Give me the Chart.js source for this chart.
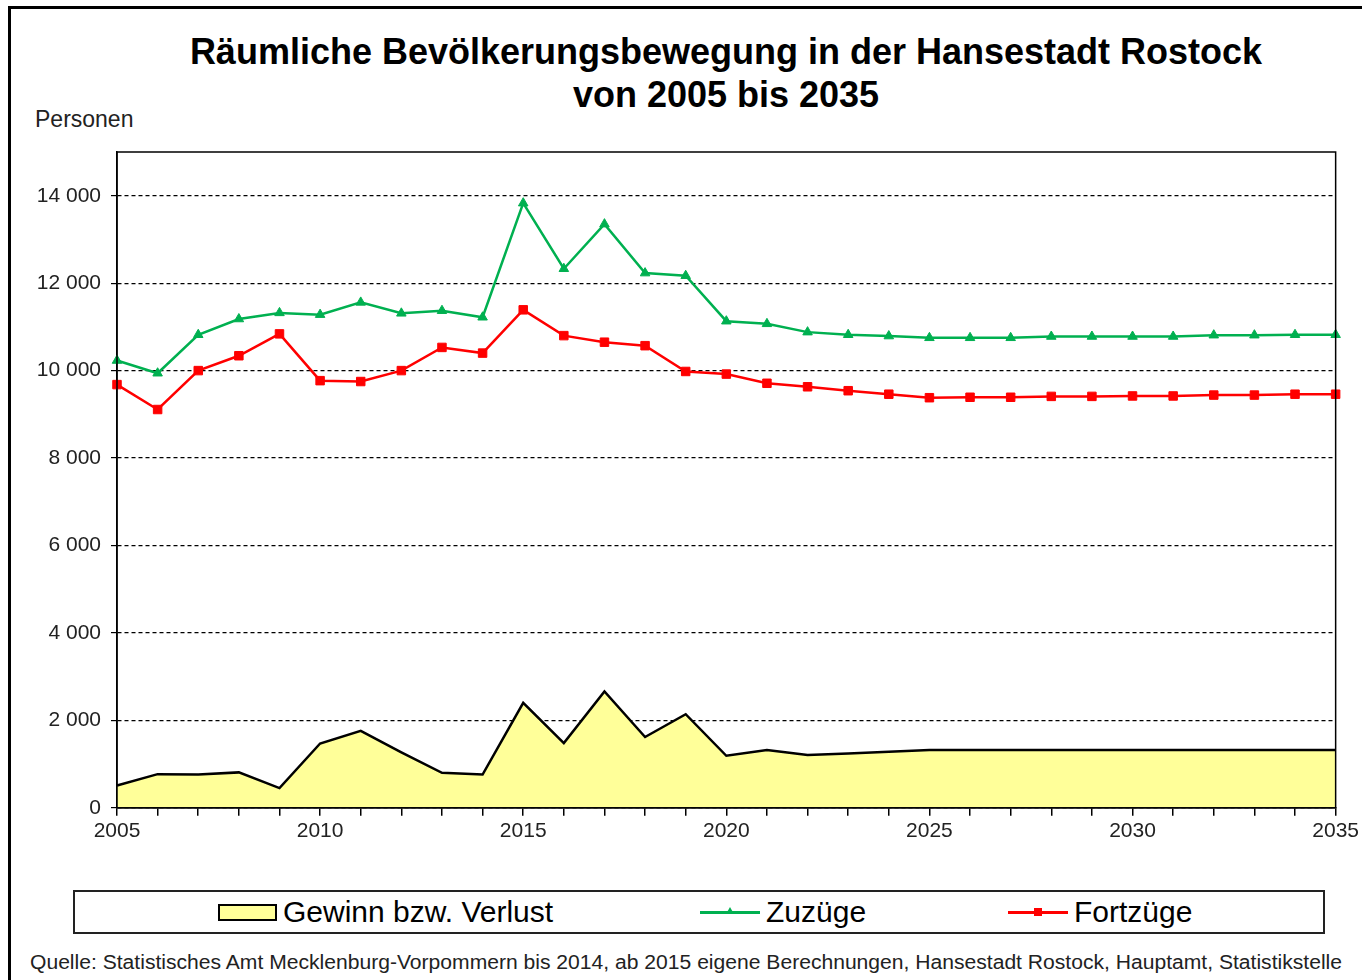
<!DOCTYPE html>
<html lang="de">
    <head>
        <meta charset="UTF-8">
        <title>Räumliche Bevölkerungsbewegung in der Hansestadt Rostock</title>
        <script src="https://cdn.jsdelivr.net/npm/chart.js"></script>
        <style>
            body { margin: 0; background: #fff; font-family: "Liberation Sans", Arial, sans-serif; color: #000; }
            .page { position: relative; width: 1362px; height: 980px; overflow: hidden; }
            .frame { position: absolute; left: 8px; top: 6px; width: 1400px; height: 1000px; border: 3px solid #000; box-sizing: border-box; }
            .title { position: absolute; left: 117px; width: 1218px; top: 30px; text-align: center; font-weight: bold; font-size: 36px; line-height: 43px; }
            .unit { position: absolute; left: 35px; top: 106px; font-size: 23px; line-height: 26px; color: #222; }
            .chart-box { position: absolute; left: 0; top: 0; width: 1362px; height: 880px; }
            .legend { position: absolute; left: 73px; top: 890px; width: 1252px; height: 44px; border: 2px solid #222; box-sizing: border-box; }
            .legend-item { position: absolute; top: 0; height: 40px; display: flex; align-items: center; font-size: 30px; }
            .swatch-area { width: 55px; height: 13px; background: #ffff99; border: 2px solid #000; margin-right: 6px; }
            .swatch-line { position: relative; width: 60px; height: 3px; margin-right: 6px; }
            .swatch-line .mark { position: absolute; left: 26px; top: -3px; width: 8px; height: 8px; }
            .source { position: absolute; left: 30px; top: 950px; font-size: 20px; line-height: 24px; color: #222; white-space: nowrap; transform-origin: 0 0; }
        </style>
    </head>
    <body>
        <div class="page">
            <div class="frame"></div>
            <div class="title">Räumliche Bevölkerungsbewegung in der Hansestadt Rostock<br>von 2005 bis 2035</div>
            <div class="unit">Personen</div>
            <div class="chart-box">
                <canvas id="chart" width="1362" height="880"></canvas>
            </div>
            <div class="legend">
                <div class="legend-item" style="left: 143px;">
                    <span class="swatch-area"></span>Gewinn bzw. Verlust
                </div>
                <div class="legend-item" style="left: 625px;">
                    <span class="swatch-line" style="background: #00b050;"><span class="mark" style="width: 0; height: 0; left: 26px; top: -4px; border-left: 4px solid transparent; border-right: 4px solid transparent; border-bottom: 7px solid #00b050;"></span></span>Zuzüge
                </div>
                <div class="legend-item" style="left: 933px;">
                    <span class="swatch-line" style="background: #ff0000;"><span class="mark" style="background: #ff0000;"></span></span>Fortzüge
                </div>
            </div>
            <div class="source" id="source">Quelle: Statistisches Amt Mecklenburg-Vorpommern bis 2014, ab 2015 eigene Berechnungen, Hansestadt Rostock, Hauptamt, Statistikstelle</div>
        </div>

        <script>
            const years = [];
            for (let y = 2005; y <= 2035; y++) years.push(String(y));

            const zuzuege = [10230, 9940, 10820, 11180, 11320, 11280, 11560, 11310, 11370, 11220,
                             13830, 12330, 13350, 12230, 12170, 11130, 11070, 10880, 10820, 10790,
                             10750, 10750, 10750, 10780, 10780, 10780, 10780, 10810, 10810, 10820, 10820];
            const fortzuege = [9680, 9110, 10000, 10340, 10840, 9770, 9750, 10000, 10530, 10400,
                               11390, 10800, 10650, 10570, 9980, 9920, 9710, 9630, 9540, 9460,
                               9380, 9390, 9390, 9410, 9410, 9420, 9420, 9440, 9440, 9460, 9460];
            const gewinn = [510, 770, 760, 810, 450, 1470, 1760, 1270, 800, 760,
                            2400, 1480, 2660, 1620, 2140, 1190, 1320, 1210, 1240, 1280,
                            1320, 1320, 1320, 1320, 1320, 1320, 1320, 1320, 1320, 1320, 1320];
            const yTicks = [0, 2000, 4000, 6000, 8000, 10000, 12000, 14000];

            // gleiche Breite wie im Original
            const src = document.getElementById('source');
            src.style.transform = 'scaleX(' + (1312 / src.offsetWidth) + ')';

            function formatNumber(v) {
                return String(v).replace(/\B(?=(\d{3})+(?!\d))/g, ' ');
            }

            const plotBorder = {
                id: 'plotBorder',
                afterDraw(chart) {
                    const a = chart.chartArea;
                    const ctx = chart.ctx;
                    ctx.save();
                    ctx.strokeStyle = '#000';
                    ctx.lineWidth = 1.5;
                    ctx.strokeRect(a.left, a.top, a.right - a.left, a.bottom - a.top);
                    ctx.restore();
                }
            };

            const tickFont = { family: '"Liberation Sans", Arial, sans-serif', size: 21 };

            new Chart(document.getElementById('chart'), {
                type: 'line',
                data: {
                    labels: years,
                    datasets: [{
                        label: 'Zuzüge',
                        data: zuzuege,
                        borderColor: '#00b050',
                        backgroundColor: '#00b050',
                        borderWidth: 2.5,
                        pointStyle: 'triangle',
                        pointRadius: 5.5,
                        pointBorderWidth: 1,
                        tension: 0
                    }, {
                        label: 'Fortzüge',
                        data: fortzuege,
                        borderColor: '#ff0000',
                        backgroundColor: '#ff0000',
                        borderWidth: 2.5,
                        pointStyle: 'rect',
                        pointRadius: 6,
                        pointBorderWidth: 1,
                        tension: 0
                    }, {
                        label: 'Gewinn bzw. Verlust',
                        data: gewinn,
                        borderColor: '#000',
                        backgroundColor: '#ffff99',
                        borderWidth: 2.5,
                        pointRadius: 0,
                        fill: 'origin',
                        tension: 0
                    }]
                },
                options: {
                    responsive: false,
                    animation: false,
                    layout: { padding: { top: 152, right: 7, bottom: 33, left: 0 } },
                    plugins: {
                        legend: { display: false },
                        tooltip: { enabled: false }
                    },
                    scales: {
                        x: {
                            offset: false,
                            grid: { display: true, drawOnChartArea: false, drawTicks: true, tickLength: 8, color: '#000', lineWidth: 1.5 },
                            border: { display: true, color: '#000', width: 1.5 },
                            ticks: {
                                autoSkip: false,
                                maxRotation: 0,
                                color: '#222',
                                font: tickFont,
                                padding: 3,
                                callback: function(value, index) {
                                    const y = Number(years[index]);
                                    return y % 5 === 0 ? years[index] : '';
                                }
                            }
                        },
                        y: {
                            min: 0,
                            max: 15000,
                            afterBuildTicks: function(scale) {
                                scale.ticks = yTicks.map(v => ({ value: v }));
                            },
                            afterFit: function(scale) {
                                scale.width = 117;
                            },
                            grid: { color: '#000', lineWidth: 1.2, tickLength: 6, tickColor: '#000', tickBorderDash: [] },
                            border: { display: true, color: '#000', width: 1.5, dash: [4, 3] },
                            ticks: {
                                color: '#222',
                                font: tickFont,
                                padding: 10,
                                callback: v => formatNumber(v)
                            }
                        }
                    }
                },
                plugins: [plotBorder]
            });
        </script>
    </body>
</html>
